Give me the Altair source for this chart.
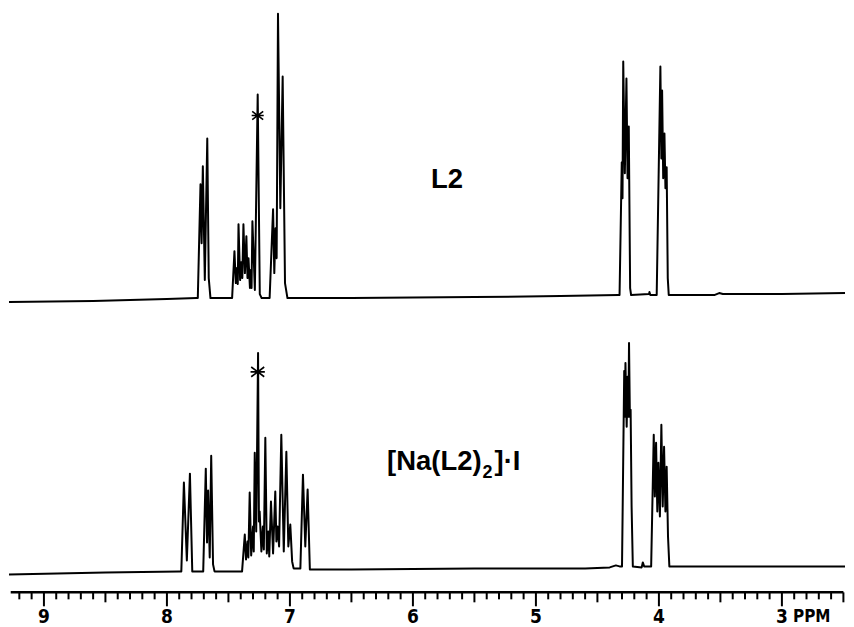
import altair as alt
import pandas as pd

# ---- L2 spectrum: trace vertices (ppm, intensity above its baseline) ----
l2_ppm = [9.284, 8.6, 8.0, 7.76, 7.749, 7.727, 7.718, 7.708, 7.692, 7.672, 7.660, 7.646,
          7.55, 7.470, 7.451, 7.440, 7.430, 7.424, 7.418, 7.405, 7.395, 7.387, 7.378, 7.366,
          7.354, 7.345, 7.337, 7.325, 7.318, 7.312, 7.305, 7.285, 7.262, 7.245, 7.230,
          7.165, 7.137, 7.127, 7.117, 7.108, 7.097, 7.078, 7.059, 7.040, 7.020,
          6.5, 5.5, 4.8, 4.33, 4.320, 4.302, 4.296, 4.290, 4.277, 4.264, 4.255, 4.245, 4.234, 4.226,
          4.08, 4.077, 4.07, 4.018, 3.988, 3.980, 3.974, 3.965, 3.955, 3.947, 3.937, 3.928, 3.920,
          3.55, 3.51, 3.48, 3.0, 2.487]
l2_int = [-4, -3, -1, 0, 0, 114, 55, 132, 18, 160, 20, 0,
          0, 0, 47, 15, 30, 14, 74, 18, 36, 20, 74, 25,
          62, 20, 40, 10, 28, 10, 77, 8, 204, 4, 0,
          0, 89, 25, 70, 40, 285, 90, 222, 15, 0,
          0, 1, 2, 3, 3, 136, 100, 237, 125, 220, 120, 172, 10, 3,
          4, 6, 3, 3, 232, 140, 208, 120, 165, 110, 131, 20, 3,
          3, 5, 4, 4, 5]

# ---- [Na(L2)2]I spectrum ----
na_ppm = [9.284, 8.5, 7.90, 7.883, 7.862, 7.838, 7.813, 7.794,
          7.705, 7.684, 7.674, 7.665, 7.652, 7.640, 7.625, 7.613,
          7.40, 7.389, 7.367, 7.357, 7.345, 7.338, 7.327, 7.315, 7.300, 7.294, 7.286, 7.274,
          7.259, 7.252, 7.246, 7.232, 7.220, 7.212, 7.200, 7.188, 7.176, 7.168, 7.154, 7.137,
          7.119, 7.110, 7.100, 7.088, 7.070, 7.050, 7.029, 7.013, 6.997, 6.982, 6.970,
          6.915, 6.894, 6.875, 6.856, 6.838,
          6.5, 5.5, 4.6, 4.40, 4.35, 4.32, 4.300, 4.282, 4.277, 4.272, 4.262, 4.255, 4.248,
          4.243, 4.236, 4.230, 4.222, 4.212, 4.14, 4.131, 4.12,
          4.063, 4.042, 4.033, 4.023, 4.013, 4.004, 3.992, 3.980, 3.969, 3.958, 3.947, 3.937,
          3.926, 3.915, 3.5, 2.487]
na_int = [-2, 0, 1, 1, 90, 12, 99, 1,
          1, 104, 30, 82, 15, 117, 8, 1,
          1, 1, 38, 13, 31, 15, 80, 17, 46, 21, 120, 41,
          220, 51, 61, 21, 46, 23, 135, 19, 41, 16, 71, 19,
          81, 31, 46, 26, 138, 21, 121, 26, 48, 11, 4,
          4, 98, 26, 83, 3,
          3, 4, 4, 5, 7, 6, 6, 202, 156, 210, 146, 196, 156,
          230, 156, 163, 66, 6, 5, 10, 6,
          6, 138, 76, 130, 61, 110, 56, 148, 66, 126, 61, 106,
          36, 6, 6, 6]

# ---- axis ticks (ppm) ----
major_ticks = [9, 8, 7, 6, 5, 4, 3]
minor_ticks = [round(9.2 - 0.1 * i, 1) for i in range(68)]

TOP_BASE = 295
BOT_BASE = 20

df_l2 = pd.DataFrame({"ppm": l2_ppm, "intensity": l2_int})
df_na = pd.DataFrame({"ppm": na_ppm, "intensity": na_int})
df_ticks = pd.DataFrame({"ppm": minor_ticks})
df_labels = pd.DataFrame({"ppm": major_ticks})

x_scale = alt.Scale(domain=[2.487, 9.284], reverse=True, nice=False, zero=False)
y_scale = alt.Scale(domain=[0, 585], nice=False, zero=False)

line_l2 = alt.Chart(df_l2).transform_calculate(
    yv=f"datum.intensity + {TOP_BASE}"
).mark_line(color="black", strokeWidth=2, strokeJoin="round").encode(
    x=alt.X("ppm:Q", scale=x_scale, axis=None),
    y=alt.Y("yv:Q", scale=y_scale, axis=None),
    order=alt.Order("ppm:Q", sort="descending"),
)

line_na = alt.Chart(df_na).transform_calculate(
    yv=f"datum.intensity + {BOT_BASE}"
).mark_line(color="black", strokeWidth=2, strokeJoin="round").encode(
    x=alt.X("ppm:Q"),
    y=alt.Y("yv:Q"),
    order=alt.Order("ppm:Q", sort="descending"),
)

# axis drawn as marks
axis_line = alt.Chart().mark_rule(color="black", strokeWidth=2.5).encode(
    x=alt.datum(9.27), x2=alt.datum(2.50), y=alt.datum(0)
)

ticks = alt.Chart(df_ticks).transform_calculate(
    tend="abs(datum.ppm - round(datum.ppm)) < 0.001 ? -14 : "
         "(abs(datum.ppm * 2 - round(datum.ppm * 2)) < 0.001 ? -10 : -7)",
    tstart="0",
).mark_rule(color="black", strokeWidth=2).encode(
    x=alt.X("ppm:Q"),
    y=alt.Y("tstart:Q"),
    y2=alt.Y2("tend:Q"),
)

axis_font = "Liberation Sans Narrow, DejaVu Sans Condensed, sans-serif"

tick_labels = alt.Chart(df_labels).mark_text(
    font=axis_font, fontSize=19, fontWeight="bold", align="center",
    baseline="alphabetic", color="black"
).encode(x=alt.X("ppm:Q"), y=alt.datum(-31), text=alt.Text("ppm:Q", format=".0f"))

txt_ppm = alt.Chart().mark_text(
    text="PPM", font=axis_font, fontSize=17, fontWeight="bold", align="left",
    baseline="alphabetic", color="black"
).encode(x=alt.datum(2.91), y=alt.datum(-30))

label_font = "Liberation Sans, Arial, sans-serif"

txt_l2 = alt.Chart().mark_text(
    text="L2", font=label_font, fontSize=27.5, fontWeight="bold", align="center",
    baseline="alphabetic", color="black"
).encode(x=alt.datum(5.723), y=alt.datum(TOP_BASE + 110))

txt_na1 = alt.Chart().mark_text(
    text="[Na(L2)", font=label_font, fontSize=27.5, fontWeight="bold", align="right",
    baseline="alphabetic", color="black"
).encode(x=alt.datum(5.442), y=alt.datum(BOT_BASE + 103))

txt_na2 = alt.Chart().mark_text(
    text="2", font=label_font, fontSize=18, fontWeight="bold", align="left",
    baseline="alphabetic", color="black", dx=1, dy=8
).encode(x=alt.datum(5.442), y=alt.datum(BOT_BASE + 103))

txt_na3 = alt.Chart().mark_text(
    text="]\u00b7I", font=label_font, fontSize=27.5, fontWeight="bold", align="left",
    baseline="alphabetic", color="black", dx=13
).encode(x=alt.datum(5.442), y=alt.datum(BOT_BASE + 103))

star_path = "M-1,-0.75L1,0.75M-1,0.75L1,-0.75M-1.1,0L1.1,0"
star_top = alt.Chart().mark_point(
    shape=star_path, size=121, filled=False, stroke="black", strokeWidth=1.6, opacity=1
).encode(x=alt.datum(7.262), y=alt.datum(TOP_BASE + 183))
star_bot = alt.Chart().mark_point(
    shape=star_path, size=170, filled=False, stroke="black", strokeWidth=1.6, opacity=1
).encode(x=alt.datum(7.262), y=alt.datum(BOT_BASE + 201))

chart = alt.layer(
    line_l2, line_na, axis_line, ticks, tick_labels, txt_ppm,
    txt_l2, txt_na1, txt_na2, txt_na3, star_top, star_bot
).properties(
    width=838, height=585, padding=0, background="white"
).configure_view(stroke=None)

chart.save("out.html", embed_options={"renderer": "svg", "actions": False})
